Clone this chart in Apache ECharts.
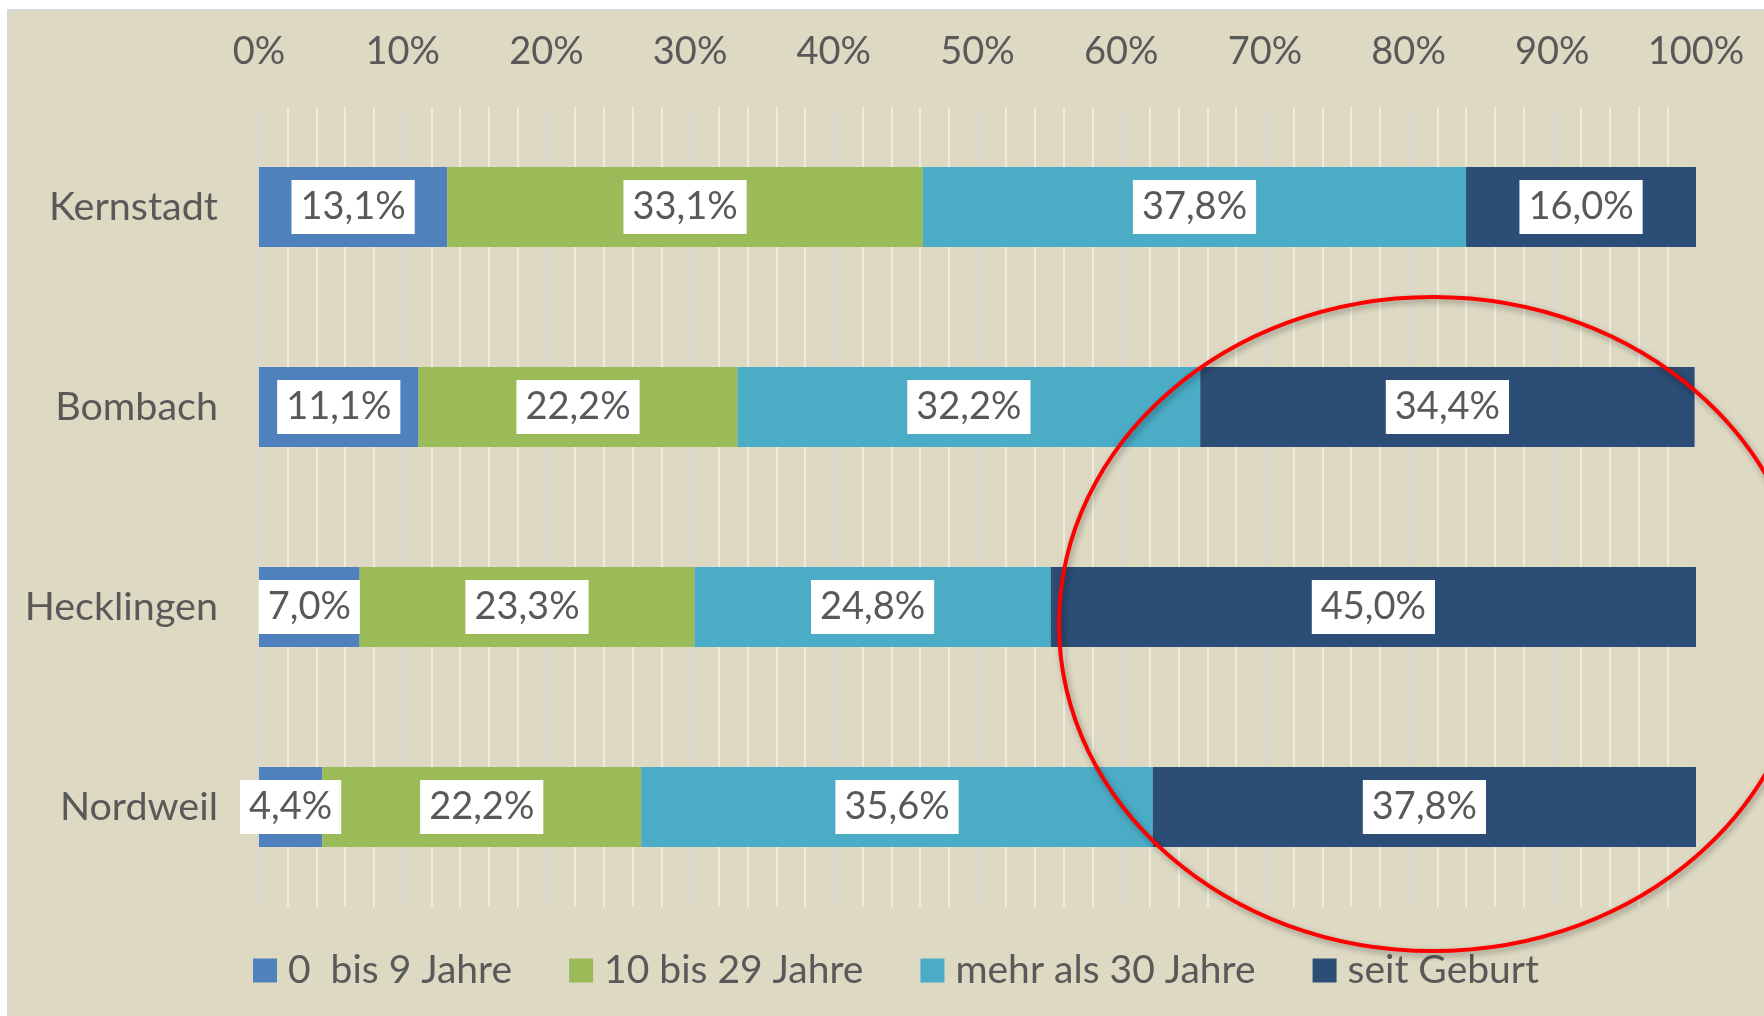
<!DOCTYPE html>
<html>
<head>
<meta charset="utf-8">
<script src="https://cdn.jsdelivr.net/npm/echarts@6/dist/echarts.min.js"></script>
<style>
  html, body { margin: 0; padding: 0; background: #ffffff; width: 1764px; height: 1016px; overflow: hidden; }
  #panel { position: absolute; left: 7px; top: 9px; width: 1757px; height: 1007px; background: #DDD9C3; box-sizing: border-box; border-left: 2px solid #D6D6D6; border-top: 2px solid #D6D6D6; }
  #chart { position: absolute; left: 0; top: 0; width: 1764px; height: 1016px; }
</style>
</head>
<body>
<div id="panel"></div>
<div id="chart"></div>
<script>
// ---- data ----
const categories = ['Kernstadt', 'Bombach', 'Hecklingen', 'Nordweil'];
const seriesNames = ['0  bis 9 Jahre', '10 bis 29 Jahre', 'mehr als 30 Jahre', 'seit Geburt'];
const age0to9 = [13.1, 11.1, 7.0, 4.4];
const age10to29 = [33.1, 22.2, 23.3, 22.2];
const over30 = [37.8, 32.2, 24.8, 35.6];
const sinceBirth = [16.0, 34.4, 45.0, 37.8];
const axisMin = 0, axisMax = 100, axisStep = 10;

// ---- styling ----
const FONT = 'Lato';
const TEXT = '#595959';
const colors = ['#4F81BD', '#9BBB59', '#4BACC6', '#2C4D75'];
const seriesValues = [age0to9, age10to29, over30, sinceBirth];

const fmt = v => v.toFixed(1).replace('.', ',') + '%';

const chart = echarts.init(document.getElementById('chart'), null, { renderer: 'canvas' });

chart.setOption({
  backgroundColor: 'transparent',
  animation: false,
  textStyle: { fontFamily: FONT },
  grid: { left: 259, right: 68, top: 107, bottom: 109, containLabel: false },
  xAxis: {
    type: 'value',
    position: 'top',
    min: axisMin, max: axisMax, interval: axisStep,
    axisLine: { show: false },
    axisTick: { show: false },
    axisLabel: {
      formatter: '{value}%', color: TEXT, fontSize: 38, fontFamily: FONT, margin: 36
    },
    splitLine: { show: true, lineStyle: { color: '#D6D6D6', width: 1.5 } },
    minorTick: { show: false, splitNumber: 5 },
    minorSplitLine: { show: true, lineStyle: { color: '#F4F2EA', width: 1.5 } }
  },
  yAxis: {
    type: 'category',
    data: categories,
    inverse: true,
    axisLine: { show: false },
    axisTick: { show: false },
    axisLabel: { color: TEXT, fontSize: 39.5, fontFamily: FONT, margin: 41, padding: [5, 0, 0, 0] }
  },
  legend: {
    left: 248, top: 946,
    itemWidth: 24, itemHeight: 24, itemGap: 57,
    icon: 'rect',
    data: seriesNames,
    textStyle: { color: TEXT, fontSize: 39, fontFamily: FONT, padding: [0, 0, 0, 6] }
  },
  series: seriesNames.map((name, i) => ({
    name: name,
    type: 'bar',
    stack: 'total',
    barCategoryGap: '60%',
    data: seriesValues[i],
    itemStyle: { color: colors[i] },
    label: {
      show: true,
      position: 'inside',
      formatter: p => fmt(p.value),
      color: TEXT,
      fontSize: 38,
      fontFamily: FONT,
      backgroundColor: '#ffffff',
      padding: [12, 9, 4, 9]
    }
  })),
  graphic: [{
    type: 'ellipse',
    z: 100,
    silent: true,
    shape: { cx: 1433, cy: 624, rx: 374, ry: 327 },
    style: {
      fill: null,
      stroke: '#FF0000',
      lineWidth: 4,
      shadowColor: 'rgba(0,0,0,0.35)',
      shadowBlur: 6,
      shadowOffsetX: 2,
      shadowOffsetY: 3
    }
  }]
});
</script>
</body>
</html>
